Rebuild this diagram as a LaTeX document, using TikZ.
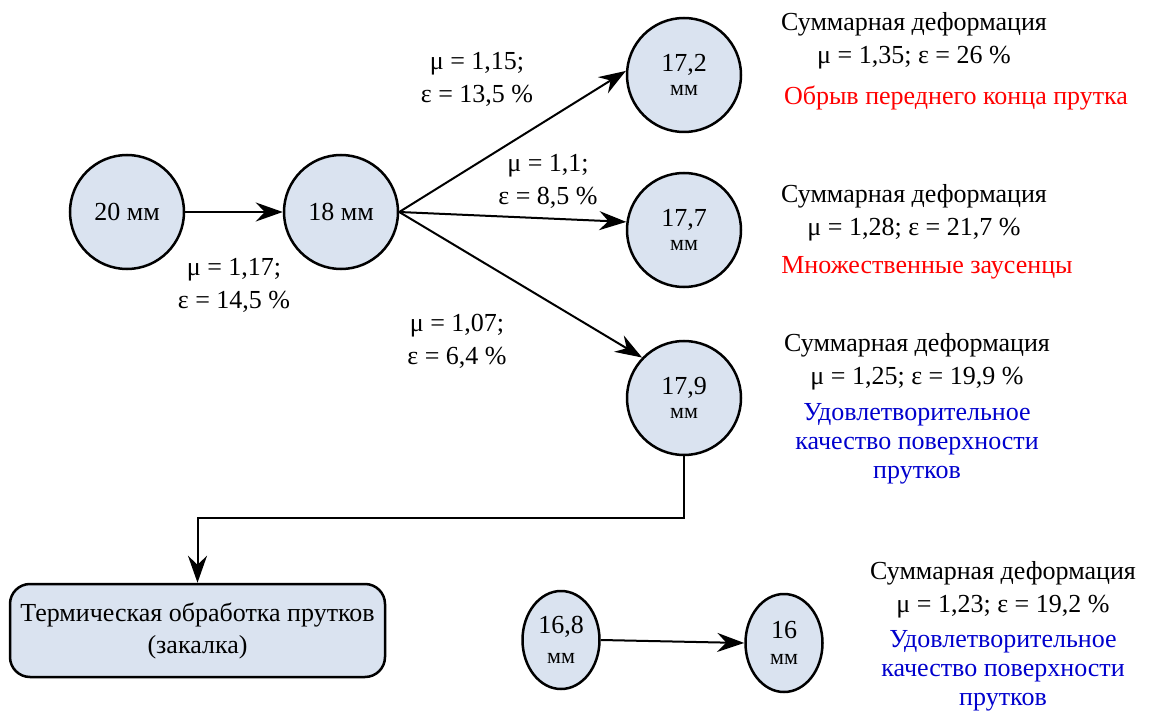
\documentclass[tikz,border=0pt]{standalone}
\usepackage{fontspec}
\setmainfont{Liberation Serif}
\newfontfamily\tnr{Liberation Serif}
\usetikzlibrary{arrows.meta,shapes.geometric}
\definecolor{nodefill}{RGB}{218,227,240}
\definecolor{goodblue}{RGB}{0,0,205}
\begin{document}
\begin{tikzpicture}[x=1pt,y=-1pt,
  circ/.style={circle,draw,line width=2.5pt,fill=nodefill,minimum size=114pt,inner sep=0pt,align=center,font=\tnr\fontsize{26}{28}\selectfont},
  ell/.style={ellipse,draw,line width=2.5pt,fill=nodefill,minimum width=77pt,minimum height=98pt,inner sep=0pt,align=center,font=\tnr\fontsize{26}{28}\selectfont},
  conn/.style={line width=2pt,-{Stealth[length=27pt,width=19pt,inset=9pt]}},
  lbl/.style={align=center,inner sep=0pt,font=\tnr\fontsize{26}{33}\selectfont},
  bad/.style={lbl,text=red},
  good/.style={align=center,inner sep=0pt,text=goodblue,font=\tnr\fontsize{26}{29}\selectfont}
]
\useasboundingbox (0,0) rectangle (1154,711);
\node[circ] (n20) at (127,212) {20 мм};
\node[circ] (n18) at (341,212) {18 мм};
\node[circ] (n172) at (684,75) {17,2\\[-4pt]{\fontsize{22}{24}\selectfont мм}};
\node[circ] (n177) at (684,230) {17,7\\[-4pt]{\fontsize{22}{24}\selectfont мм}};
\node[circ] (n179) at (684,398) {17,9\\[-4pt]{\fontsize{22}{24}\selectfont мм}};
\node[ell] (n168) at (561,640) {16,8\\[2pt]{\fontsize{22}{24}\selectfont мм}};
\node[ell] (n16) at (784,643) {16\\[-2pt]{\fontsize{22}{24}\selectfont мм}};
\node[draw,line width=2.5pt,fill=nodefill,rounded corners=20pt,minimum width=375pt,minimum height=93pt,align=center,font=\tnr\fontsize{26}{32}\selectfont] (box) at (197.5,630.5) {\raisebox{-4pt}{Термическая обработка прутков}\\\raisebox{-4pt}{(закалка)}};

\draw[conn] (n20.east) -- (n18.west);
\draw[conn] (n18.east) -- (n172.176);
\draw[conn] (n18.east) -- (n177.172);
\draw[conn] (n18.east) -- (n179.136);
\draw[conn] (n179.south) -- ++(0,62) coordinate (bend) -| (box.north);
\draw[conn] (n168.east) -- (n16.west);

\node[lbl] (l1) at (477,79) {μ = 1,15;\\ε = 13,5 \%};
\node[lbl] (l2) at (548,181) {μ = 1,1;\\ε = 8,5 \%};
\node[lbl] (l3) at (234,285) {μ = 1,17;\\ε = 14,5 \%};
\node[lbl] (l4) at (457,341) {μ = 1,07;\\ε = 6,4 \%};

\node[lbl] (s1) at (914,41) {Суммарная деформация\\μ = 1,35; ε = 26 \%};
\node[bad] (r1) at (956,98) {Обрыв переднего конца прутка};
\node[lbl] (s2) at (914,213) {Суммарная деформация\\μ = 1,28; ε = 21,7 \%};
\node[bad] (r2) at (927,268) {Множественные заусенцы};
\node[lbl] (s3) at (917,362) {Суммарная деформация\\μ = 1,25; ε = 19,9 \%};
\node[good] (g3) at (917,444) {Удовлетворительное\\качество поверхности\\прутков};
\node[lbl] (s4) at (1003,590) {Суммарная деформация\\μ = 1,23; ε = 19,2 \%};
\node[good] (g4) at (1003,671) {Удовлетворительное\\качество поверхности\\прутков};
\end{tikzpicture}
\end{document}
